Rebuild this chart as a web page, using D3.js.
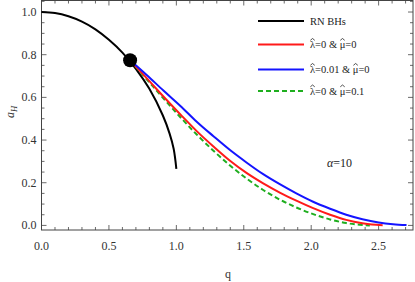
<!DOCTYPE html>
<html>
<head>
<meta charset="utf-8">
<script src="https://cdn.jsdelivr.net/npm/d3@7"></script>
<style>
  body { margin: 0; background: #fff; }
  svg { display: block; }
  text { font-family: "Liberation Serif", "DejaVu Serif", serif; }
</style>
</head>
<body>
<div id="chart"></div>
<script>
// data
var rnQ  = [0, 0.1, 0.2, 0.3, 0.4, 0.5, 0.6, 0.7, 0.8, 0.9, 0.95, 0.98, 1.0];
var rnA  = [1, 0.995, 0.980, 0.955, 0.919, 0.870, 0.810, 0.734, 0.640, 0.515, 0.430, 0.359, 0.265];

var blueQ = [0.657, 0.78, 0.904, 1.03, 1.151, 1.275, 1.398, 1.52, 1.644, 1.767, 1.89, 2.01, 2.14, 2.26, 2.38, 2.50, 2.607, 2.707];
var blueA = [0.774, 0.705, 0.632, 0.56, 0.486, 0.418, 0.353, 0.295, 0.240, 0.193, 0.150, 0.112, 0.078, 0.050, 0.029, 0.014, 0.006, 0.002];

var redQ = [0.657, 0.78, 0.904, 1.03, 1.151, 1.275, 1.398, 1.52, 1.644, 1.767, 1.89, 2.01, 2.14, 2.26, 2.38, 2.45, 2.53];
var redA = [0.774, 0.690, 0.604, 0.520, 0.442, 0.370, 0.303, 0.246, 0.197, 0.154, 0.116, 0.082, 0.050, 0.026, 0.010, 0.004, 0.001];

var greenQ = [0.657, 0.78, 0.904, 1.03, 1.151, 1.275, 1.398, 1.52, 1.644, 1.767, 1.89, 2.01, 2.14, 2.26, 2.36, 2.435];
var greenA = [0.774, 0.685, 0.595, 0.507, 0.426, 0.350, 0.281, 0.220, 0.166, 0.121, 0.084, 0.054, 0.028, 0.011, 0.003, 0.0];

var dotQ = 0.657, dotA = 0.774;

var xTicks = [0, 0.5, 1.0, 1.5, 2.0, 2.5];
var yTicks = [0, 0.2, 0.4, 0.6, 0.8, 1.0];

// legend labels; the Greek letters get a hat drawn over them
var legendNames = ["RN BHs", "\u03BB=0 & \u03BC=0", "\u03BB=0.01 & \u03BC=0", "\u03BB=0 & \u03BC=0.1"];

var width = 415, height = 282,
    margin = {top: 0.5, right: 2, bottom: 52, left: 41.5};

var svg = d3.select("#chart").append("svg")
  .attr("width", width)
  .attr("height", height);

var x = d3.scaleLinear().domain([0, 2.755]).range([margin.left, width - margin.right]);
var y = d3.scaleLinear().domain([-0.0215, 1.054]).range([height - margin.bottom, margin.top]);

var frameColor = "#444";

// minor + major ticks, pointing inwards on all four sides
var xMinor = d3.range(0, 2.76, 0.1), yMinor = d3.range(0, 1.051, 0.05);

function isMajor(v, step) {
  return Math.abs(v / step - Math.round(v / step)) < 1e-6;
}

var ticks = svg.append("g").attr("stroke", frameColor).attr("stroke-width", 0.8);
xMinor.forEach(function(v) {
  var len = isMajor(v, 0.5) ? 5 : 3;
  ticks.append("line").attr("x1", x(v)).attr("x2", x(v))
    .attr("y1", y.range()[0]).attr("y2", y.range()[0] - len);
  ticks.append("line").attr("x1", x(v)).attr("x2", x(v))
    .attr("y1", y.range()[1]).attr("y2", y.range()[1] + len);
});
yMinor.forEach(function(v) {
  var len = isMajor(v, 0.2) ? 5 : 3;
  ticks.append("line").attr("y1", y(v)).attr("y2", y(v))
    .attr("x1", x.range()[0]).attr("x2", x.range()[0] + len);
  ticks.append("line").attr("y1", y(v)).attr("y2", y(v))
    .attr("x1", x.range()[1]).attr("x2", x.range()[1] - len);
});

svg.append("rect")
  .attr("x", x.range()[0]).attr("y", y.range()[1])
  .attr("width", x.range()[1] - x.range()[0])
  .attr("height", y.range()[0] - y.range()[1])
  .style("fill", "none").style("stroke", frameColor).style("stroke-width", 1);

// tick labels
svg.selectAll(".xlab").data(xTicks).enter().append("text")
  .attr("class", "xlab")
  .attr("x", function(d) { return x(d); })
  .attr("y", 250)
  .attr("text-anchor", "middle")
  .style("font-size", "12px").style("fill", "#333")
  .text(function(d) { return d.toFixed(1); });

svg.selectAll(".ylab").data(yTicks).enter().append("text")
  .attr("class", "ylab")
  .attr("x", 36.5)
  .attr("y", function(d) { return y(d) + 4; })
  .attr("text-anchor", "end")
  .style("font-size", "12px").style("fill", "#333")
  .text(function(d) { return d.toFixed(1); });

// axis titles
svg.append("text")
  .attr("x", 228).attr("y", 278)
  .attr("text-anchor", "middle")
  .style("font-size", "12px").style("fill", "#333")
  .text("q");

var yTitle = svg.append("text")
  .attr("transform", "translate(14,112) rotate(-90)")
  .attr("text-anchor", "middle")
  .style("font-size", "12px").style("fill", "#333");
yTitle.append("tspan").style("font-style", "italic").text("a");
yTitle.append("tspan").attr("dy", 3).style("font-size", "8.5px").style("font-style", "italic").text("H");

// curves
var line = d3.line()
  .x(function(d) { return x(d[0]); })
  .y(function(d) { return y(d[1]); })
  .curve(d3.curveMonotoneX);

var rnLine = d3.line()
  .x(function(d) { return x(d[0]); })
  .y(function(d) { return y(d[1]); })
  .curve(d3.curveCatmullRom);

function pairs(qs, as) {
  return qs.map(function(q, i) { return [q, as[i]]; });
}

var series = [
  {q: rnQ, a: rnA, color: "#000000", dash: null, gen: rnLine},
  {q: greenQ, a: greenA, color: "#1fae1f", dash: "5,3", gen: line},
  {q: redQ, a: redA, color: "#ff1a1a", dash: null, gen: line},
  {q: blueQ, a: blueA, color: "#1414ff", dash: null, gen: line}
];

series.forEach(function(s) {
  svg.append("path")
    .datum(pairs(s.q, s.a))
    .attr("d", s.gen)
    .style("fill", "none")
    .style("stroke", s.color)
    .style("stroke-width", 2)
    .style("stroke-dasharray", s.dash);
});

svg.append("circle")
  .attr("cx", x(dotQ)).attr("cy", y(dotA)).attr("r", 7)
  .style("fill", "#000");

// legend
var legColors = ["#000000", "#ff1a1a", "#1414ff", "#1fae1f"];
var legY = [21, 44.5, 69.5, 91];
var leg = svg.append("g");
legendNames.forEach(function(name, i) {
  leg.append("line")
    .attr("x1", 258).attr("x2", 304)
    .attr("y1", legY[i]).attr("y2", legY[i])
    .style("stroke", legColors[i]).style("stroke-width", 2)
    .style("stroke-dasharray", i === 3 ? "5,3" : null);
  var t = leg.append("text")
    .attr("x", 310).attr("y", legY[i] + 3.5)
    .style("font-size", "10.5px").style("fill", "#222")
    .text(name);
  // hats over lambda and mu
  for (var k = 0; k < name.length; k++) {
    var ch = name[k];
    if (ch !== "\u03BB" && ch !== "\u03BC") continue;
    var box = t.node().getExtentOfChar(k);
    var cx = box.x + box.width / 2,
        top = legY[i] + 3.5 - 9.5;
    leg.append("path")
      .attr("d", "M" + (cx - 2.2) + "," + (top + 1.8) + "L" + cx + "," + top + "L" + (cx + 2.2) + "," + (top + 1.8))
      .style("fill", "none").style("stroke", "#222").style("stroke-width", 0.8);
  }
});

// alpha note
var note = svg.append("text")
  .attr("x", 327).attr("y", 167)
  .style("font-size", "12px").style("fill", "#222");
note.append("tspan").style("font-style", "italic").text("\u03B1");
note.append("tspan").text("=10");
</script>
</body>
</html>
